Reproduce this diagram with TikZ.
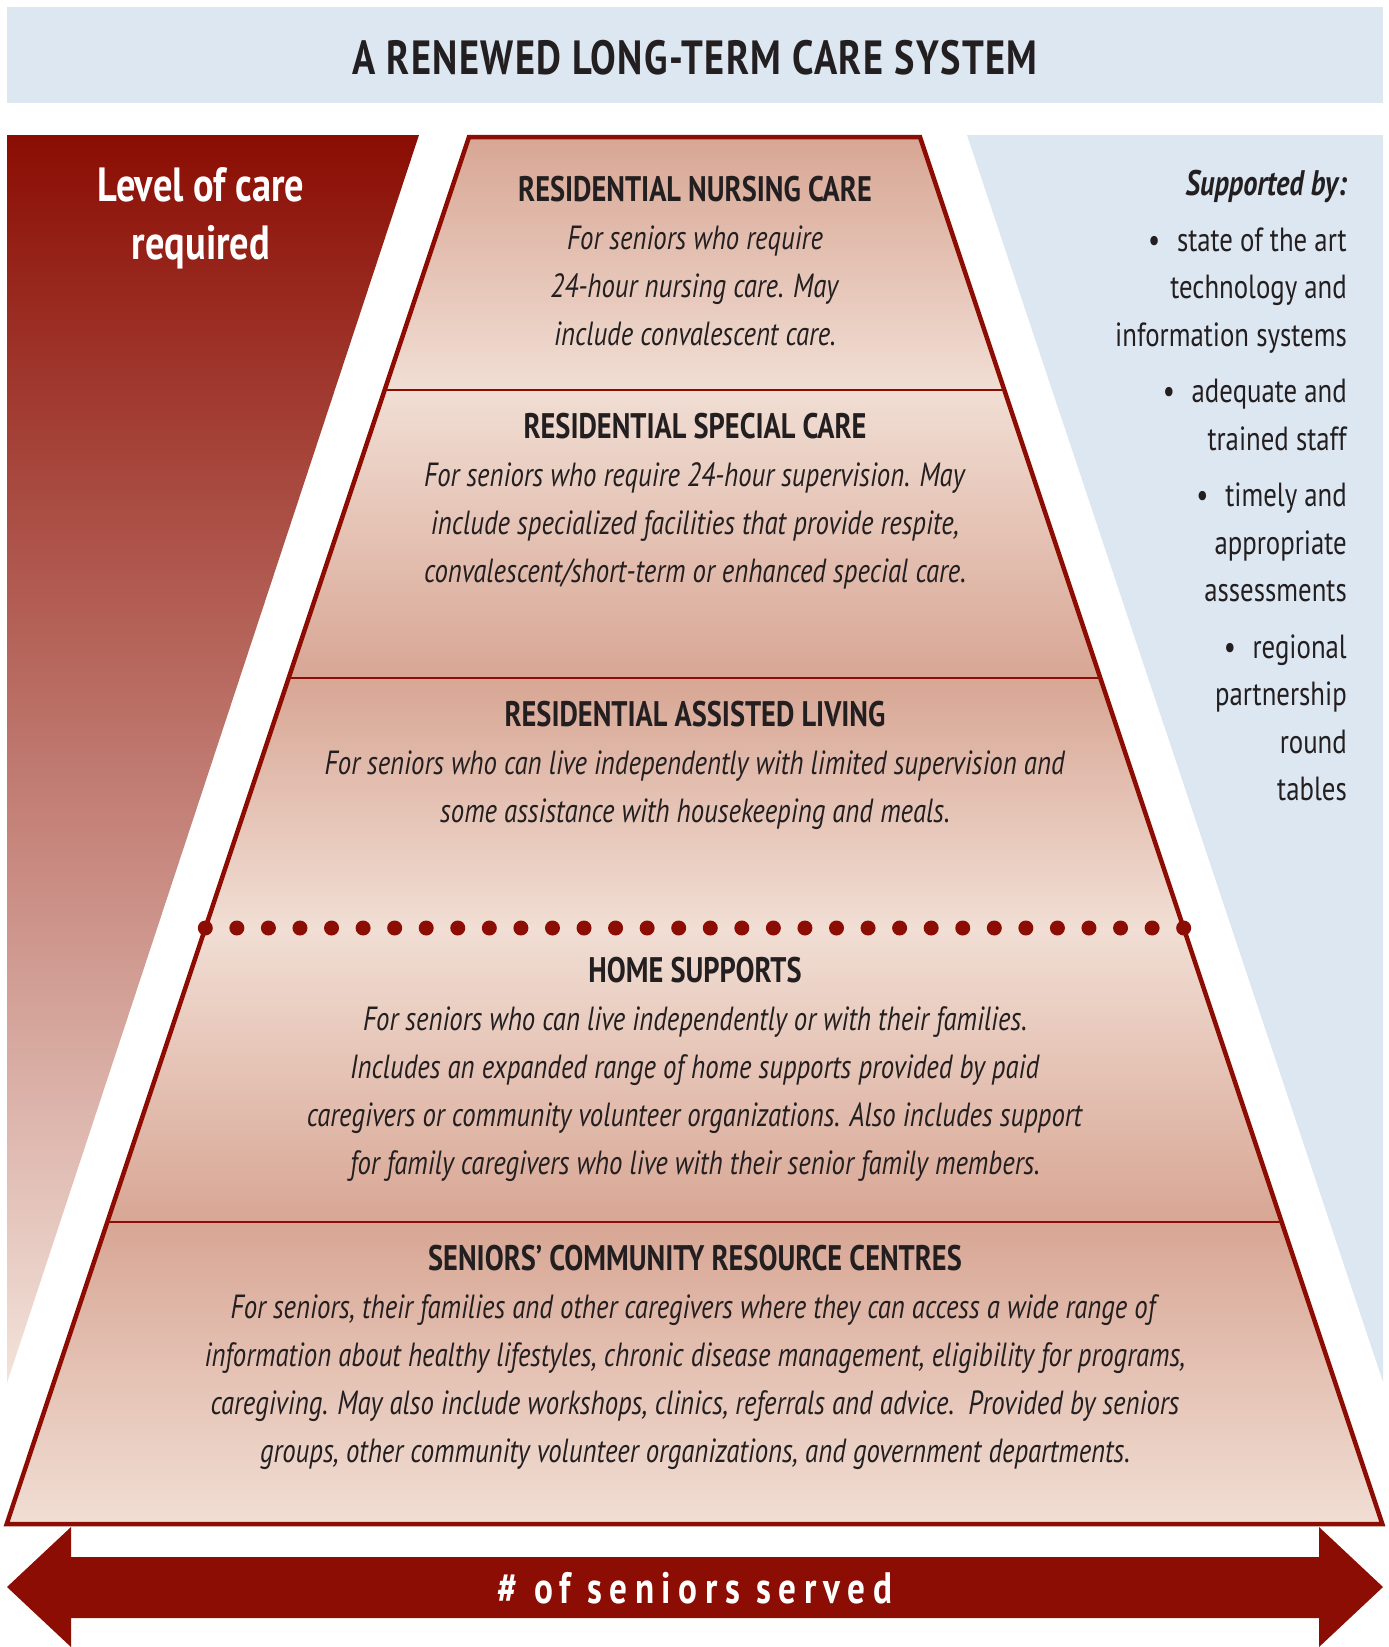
\documentclass[tikz,border=0pt]{standalone}
\usepackage{fontspec}
\setmainfont{PT Sans}[FakeStretch=0.8]
\newfontfamily\spacedfont{PT Sans}[FakeStretch=0.8,LetterSpace=17]
\newfontfamily\titlefont{PT Sans}[FakeStretch=0.8,LetterSpace=3]
\usetikzlibrary{calc}

\definecolor{careRed}{HTML}{8B0D03}
\definecolor{skyPale}{HTML}{DDE7F1}
\definecolor{layerDark}{HTML}{D8A694}
\definecolor{layerLight}{HTML}{F1DED4}
\definecolor{inkGray}{HTML}{231F20}

\newcommand{\layerhead}[1]{{\fontsize{35.5}{48}\selectfont\bfseries #1}}

\tikzset{
  layertext/.style={align=center, text=inkGray, inner sep=0pt,
    font=\fontsize{33.5}{48}\selectfont},
  sidetext/.style={align=right, text=inkGray, inner sep=0pt,
    font=\fontsize{33.5}{47.5}\selectfont},
  divider/.style={careRed, line width=2.5pt},
}

\begin{document}
\begin{tikzpicture}[x=1pt,y=-1pt]
  \useasboundingbox (0,0) rectangle (1389,1647);

  % title band
  \fill[skyPale] (7,7) rectangle (1383,103);
  \node[text=inkGray, font=\fontsize{48}{52}\titlefont\bfseries](title) at (695,58)
    {A RENEWED LONG-TERM CARE SYSTEM};

  % side panels
  \shade[top color=careRed, middle color={rgb,255:red,182;green,100;blue,72},
    bottom color={rgb,255:red,243;green,227;blue,218}]
    (7,135) -- (419,135) -- (7,1383) -- cycle;
  \fill[skyPale] (967,135) -- (1383,135) -- (1383,1382) -- cycle;

  % pyramid layers
  \shade[top color=layerDark, bottom color=layerLight]
    (469,137) -- (920,137) -- (1004.3,390) -- (384.7,390) -- cycle;
  \shade[top color=layerLight, bottom color=layerDark]
    (384.7,390) -- (1004.3,390) -- (1100.3,678) -- (288.7,678) -- cycle;
  \shade[top color=layerDark, bottom color=layerLight]
    (288.7,678) -- (1100.3,678) -- (1183.7,928) -- (205.3,928) -- cycle;
  \shade[top color=layerLight, bottom color=layerDark]
    (205.3,928) -- (1183.7,928) -- (1281.7,1222) -- (107.3,1222) -- cycle;
  \shade[top color=layerDark, bottom color=layerLight]
    (107.3,1222) -- (1281.7,1222) -- (1382.3,1524) -- (6.7,1524) -- cycle;

  \draw[divider] (384.7,390) -- (1004.3,390);
  \draw[divider] (288.7,678) -- (1100.3,678);
  \draw[divider] (107.3,1222) -- (1281.7,1222);
  \foreach \i in {0,...,31}
    \fill[careRed] (205.3+\i*31.56,928) circle (7.5);
  \draw[careRed, line width=4.5pt, line join=miter]
    (469,137) -- (920,137) -- (1382.3,1524) -- (6.7,1524) -- cycle;

  % layer texts
  \node[layertext](nursing) at (695,261) {\layerhead{RESIDENTIAL NURSING CARE}\\
    \textit{For seniors who require}\\
    \textit{24-hour nursing care. May}\\
    \textit{include convalescent care.}};
  \node[layertext](special) at (695,501) {\layerhead{RESIDENTIAL SPECIAL CARE}\\
    \textit{For seniors who require 24-hour supervision. May}\\
    \textit{include specialized facilities that provide respite,}\\
    \textit{convalescent/short-term or enhanced special care.}};
  \node[layertext](assisted) at (695,765) {\layerhead{RESIDENTIAL ASSISTED LIVING}\\
    \textit{For seniors who can live independently with limited supervision and}\\
    \textit{some assistance with housekeeping and meals.}};
  \node[layertext](home) at (695,1069) {\layerhead{HOME SUPPORTS}\\
    \textit{For seniors who can live independently or with their families.}\\
    \textit{Includes an expanded range of home supports provided by paid}\\
    \textit{caregivers or community volunteer organizations. Also includes support}\\
    \textit{for family caregivers who live with their senior family members.}};
  \node[layertext](centres) at (695,1357) {\layerhead{SENIORS’ COMMUNITY RESOURCE CENTRES}\\
    \textit{For seniors, their families and other caregivers where they can access a wide range of}\\
    \textit{information about healthy lifestyles, chronic disease management, eligibility for programs,}\\
    \textit{caregiving. May also include workshops, clinics, referrals and advice.\ \ Provided by seniors}\\
    \textit{groups, other community volunteer organizations, and government departments.}};

  % side texts
  \node[align=center, text=white, inner sep=0pt,
    font=\fontsize{48}{58}\selectfont\bfseries](level) at (201,218) {Level of care\\required};
  \node[sidetext, anchor=north east](support) at (1347,170)
    {{\fontsize{35.5}{47.5}\selectfont\bfseries\itshape Supported by:}\\[8pt]
    \textbullet\enspace state of the art\\
    technology and\\
    information systems\\[9pt]
    \textbullet\enspace adequate and\\
    trained staff\\[9pt]
    \textbullet\enspace timely and\\
    appropriate\\
    assessments\\[9pt]
    \textbullet\enspace regional\\
    partnership\\
    round\\
    tables};

  % seniors served arrow
  \fill[careRed] (7,1587) -- (71,1527) -- (71,1557) -- (1319,1557) -- (1319,1527)
    -- (1383,1587) -- (1319,1647) -- (1319,1618) -- (71,1618) -- (71,1647) -- cycle;
  \node[text=white, font=\fontsize{44}{48}\spacedfont\bfseries](served) at (695,1588)
    {\# of seniors served};
\end{tikzpicture}
\end{document}
